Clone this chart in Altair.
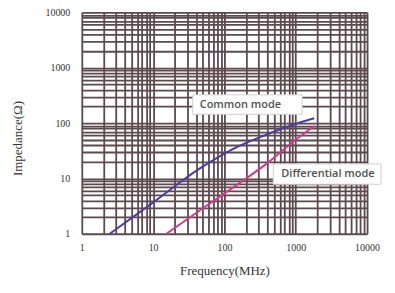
import altair as alt
import pandas as pd

# Common mode curve (frequency MHz, impedance ohm)
cm_freq = [2.46, 9.5, 44.7, 129, 387, 893, 1815]
cm_imp = [1.0, 3.5, 15, 33.6, 61.6, 92, 122]
# Differential mode curve
dm_freq = [15.4, 56, 162, 387, 893, 1815]
dm_imp = [1.0, 3.2, 8.2, 18.3, 44.6, 88.6]

series_names = ["Common mode", "Differential mode"]
series_colors = ["#4b3c9e", "#cf3a8e"]

# label boxes (data coords)
box_x = [36, 484]
box_x2 = [1230, 15700]
box_y = [323, 18.3]
box_y2 = [144, 7.85]
label_x = [45, 627]
label_y = [215, 11.8]

major = [1, 10, 100, 1000, 10000]
grid_vals = [m * 10 ** k for k in range(4) for m in range(1, 10)] + [10000]

curves = pd.DataFrame(
    {
        "f": cm_freq + dm_freq,
        "z": cm_imp + dm_imp,
        "s": [series_names[0]] * len(cm_freq) + [series_names[1]] * len(dm_freq),
    }
)
boxes = pd.DataFrame(
    {"x": box_x, "x2": box_x2, "y": box_y, "y2": box_y2,
     "lx": label_x, "ly": label_y, "t": series_names}
)

label_expr = "indexof([1,10,100,1000,10000], datum.value) >= 0 ? format(datum.value, 'd') : ''"
grid_col = "#5c4a4f"

xscale = alt.Scale(type="log", domain=[1, 10000])
yscale = alt.Scale(type="log", domain=[1, 10000])

xaxis = alt.Axis(
    values=grid_vals, labelExpr=label_expr, grid=True, ticks=False, domain=False,
    labelFlush=False, labelOverlap=False, labelPadding=9,
    labelFont="Liberation Serif", labelFontSize=10, labelColor="#333",
    title="Frequency(MHz)", titleFont="Liberation Serif", titleFontSize=13,
    titleFontWeight="normal", titleColor="#333", titlePadding=12,
    gridColor=grid_col, gridWidth=1.8,
)
yaxis = alt.Axis(
    values=grid_vals, labelExpr=label_expr, grid=True, ticks=False, domain=False,
    labelFlush=False, labelOverlap=False, labelPadding=12,
    labelFont="Liberation Serif", labelFontSize=10, labelColor="#333",
    title="Impedance(Ω)", titleFont="Liberation Serif", titleFontSize=13,
    titleFontWeight="normal", titleColor="#333", titleX=-57, titleY=126,
    titleAnchor="middle", titleAlign="center",
    gridColor=grid_col, gridWidth=1.8,
)

lines = alt.Chart(curves).mark_line(strokeWidth=2, interpolate="monotone").encode(
    x=alt.X("f:Q", scale=xscale, axis=xaxis),
    y=alt.Y("z:Q", scale=yscale, axis=yaxis),
    color=alt.Color("s:N", scale=alt.Scale(domain=series_names, range=series_colors), legend=None),
    detail="s:N",
)

rects = alt.Chart(boxes).mark_rect(fill="white", stroke="#d0d0d0", strokeWidth=1).encode(
    x=alt.X("x:Q", scale=xscale), x2="x2:Q",
    y=alt.Y("y:Q", scale=yscale), y2="y2:Q",
)

texts = alt.Chart(boxes).mark_text(
    align="left", baseline="middle", font="Open Sans", fontSize=11,
    fontWeight=600, color="#505050"
).encode(
    x=alt.X("lx:Q", scale=xscale),
    y=alt.Y("ly:Q", scale=yscale),
    text="t:N",
)

chart = alt.layer(lines, rects, texts).properties(
    width=286, height=222,
    autosize=alt.AutoSizeParams(type="none"),
    padding={"left": 74, "top": 4, "right": 20, "bottom": 50},
).configure_view(stroke=grid_col, strokeWidth=2).configure(background="white")

chart.save("out.html", embed_options={"renderer": "svg", "actions": False})
